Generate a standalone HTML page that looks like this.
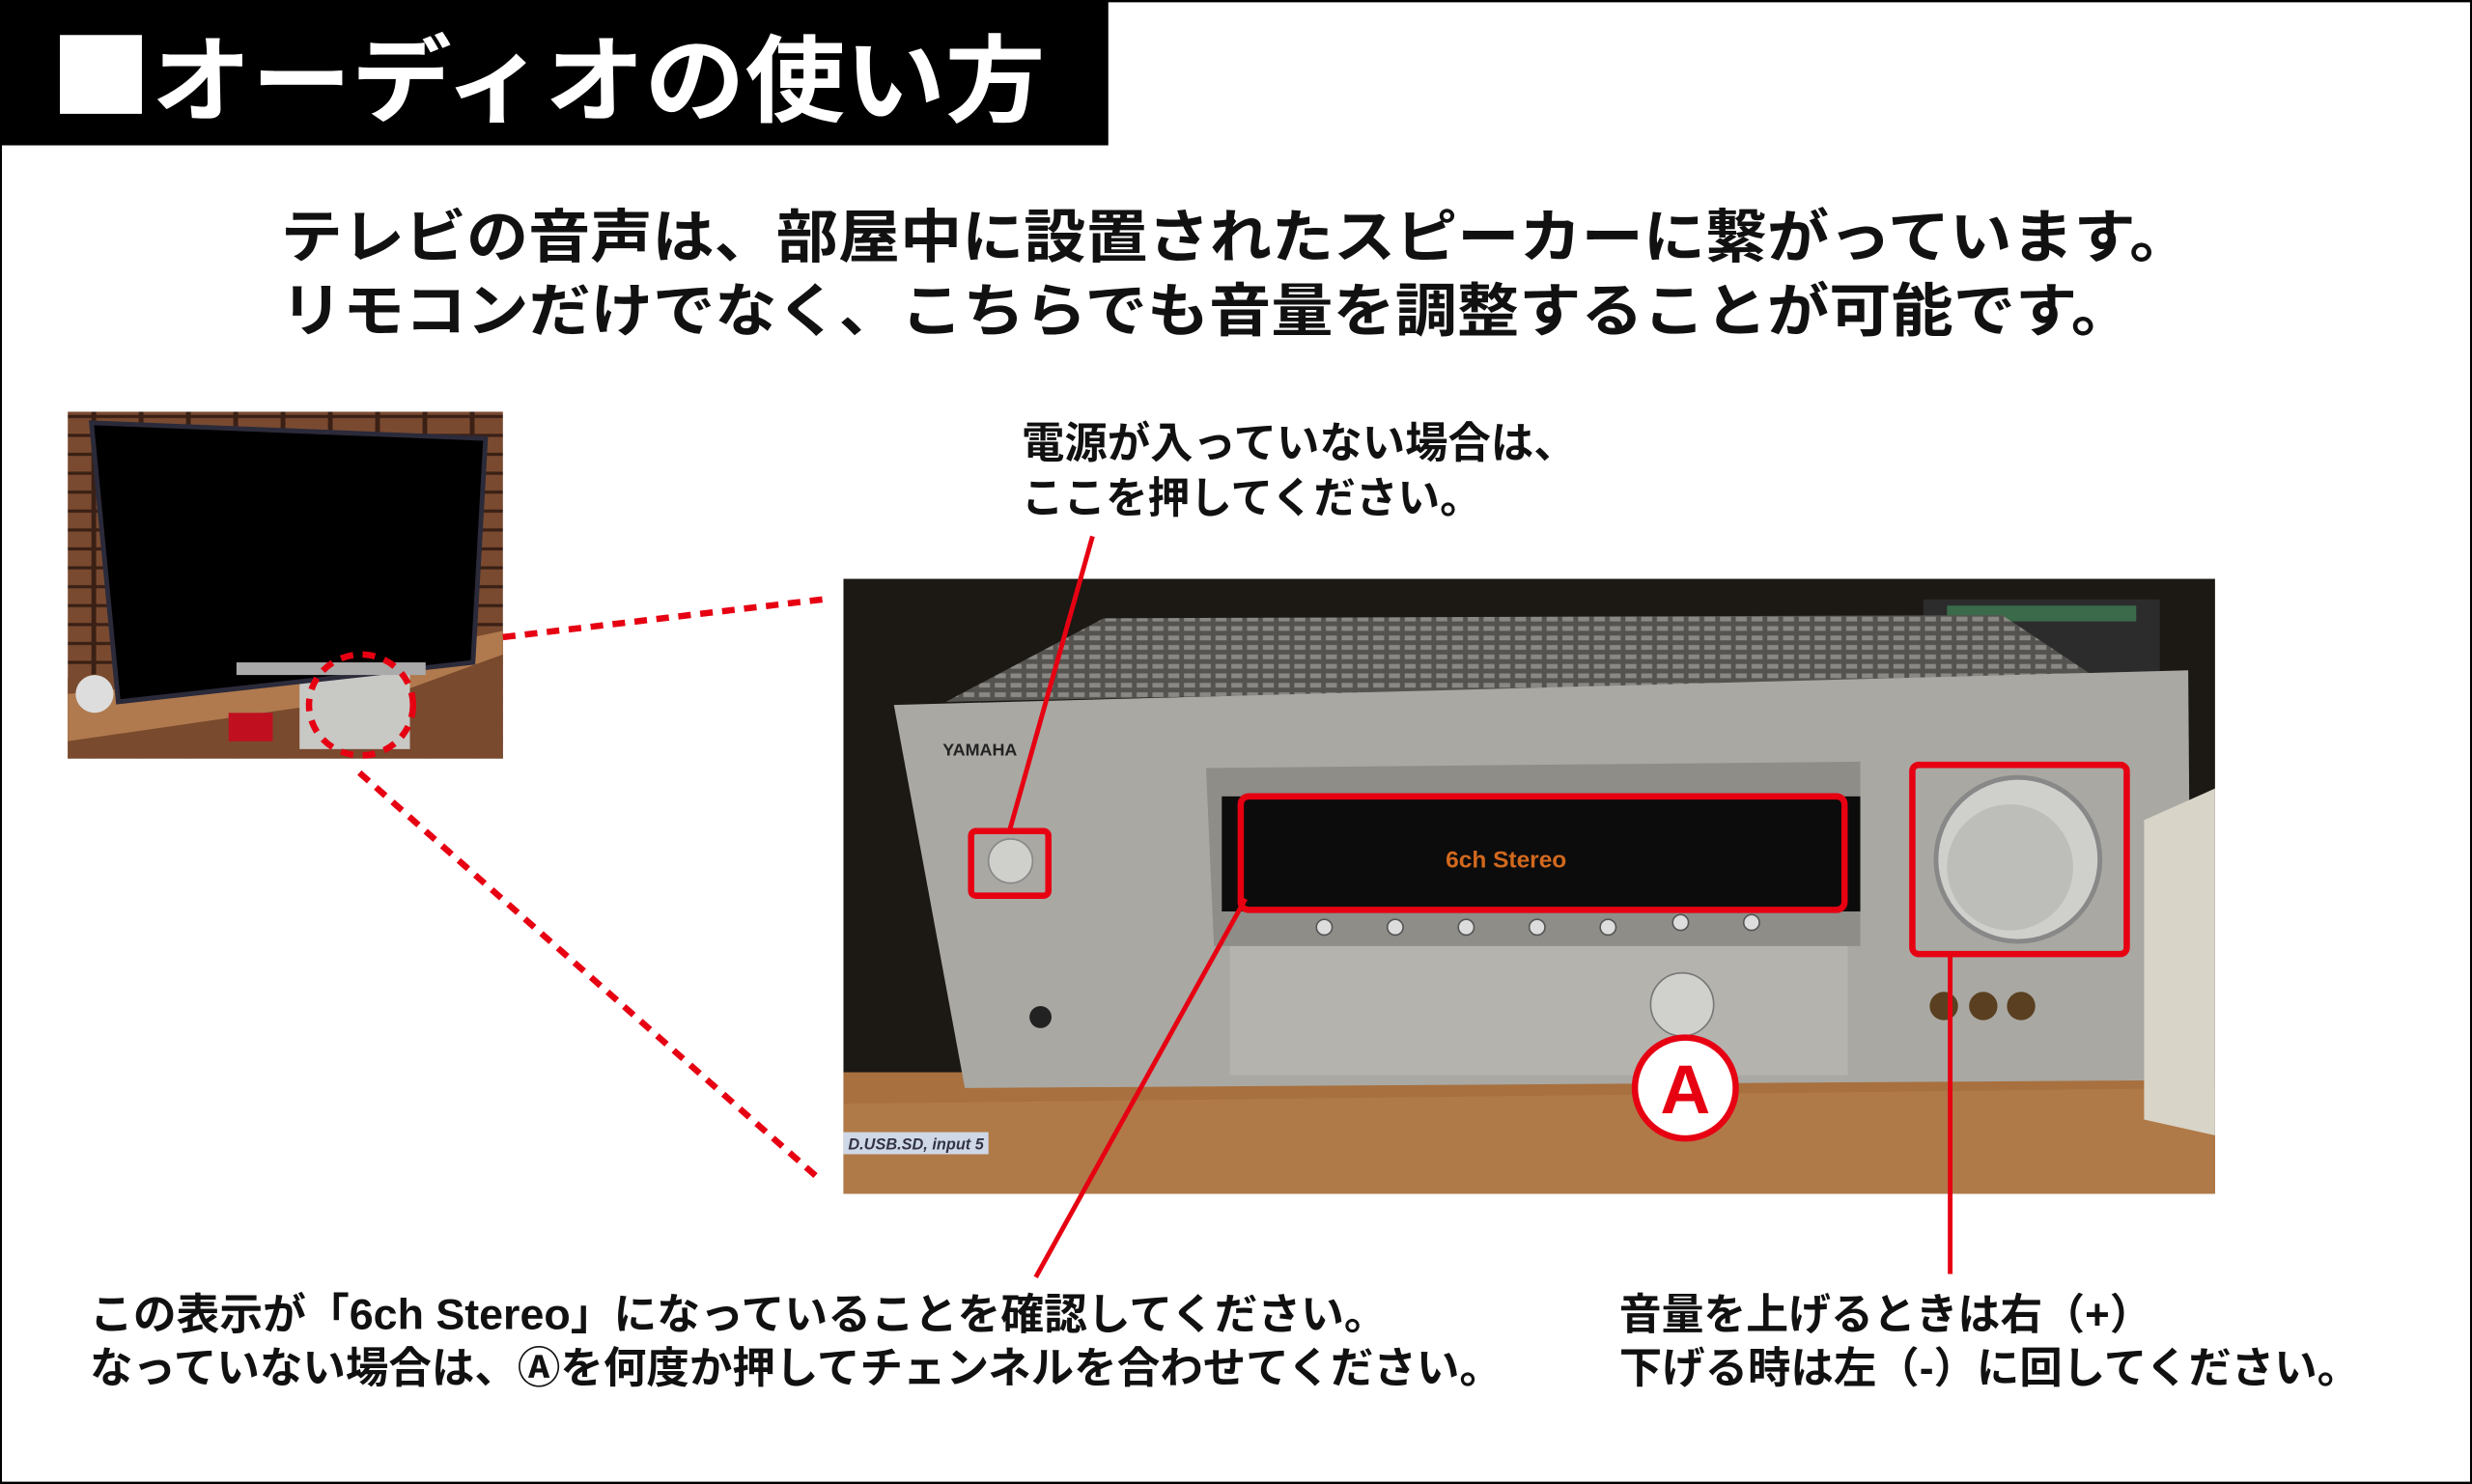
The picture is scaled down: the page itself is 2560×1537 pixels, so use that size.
<!DOCTYPE html>
<html><head><meta charset="utf-8"><style>
html,body{margin:0;padding:0;background:#fff;}
svg{display:block;}
text{font-family:"Liberation Sans","Noto Sans CJK JP",sans-serif;font-weight:bold;}
</style></head><body>
<svg width="2560" height="1537" viewBox="0 0 1568 941" xmlns="http://www.w3.org/2000/svg">
<defs>
<pattern id="brick" width="30" height="12" patternUnits="userSpaceOnUse">
<rect width="30" height="12" fill="#3a2015"/><rect x="1" y="1" width="27" height="10" fill="#7a4a30"/>
</pattern>
<pattern id="grill" width="10" height="6" patternUnits="userSpaceOnUse">
<rect width="10" height="6" fill="#55534f"/><rect x="1" y="1" width="7" height="3" fill="#8a8884"/>
</pattern>
</defs>
<rect x="0.5" y="0.5" width="1567" height="940" fill="#fff" stroke="#000" stroke-width="1.5"/>
<rect x="0" y="0" width="703" height="92" fill="#000"/>
<rect x="38" y="22" width="52" height="50" fill="#fff"/>
<text x="96" y="72" font-size="60" fill="#fff" textLength="567" lengthAdjust="spacingAndGlyphs">オーディオの使い方</text>
<text x="178" y="163" font-size="37" fill="#111" textLength="1212" lengthAdjust="spacingAndGlyphs">テレビの音声は、部屋中に設置されたスピーカーに繋がっています。</text>
<text x="178" y="210" font-size="37" fill="#111" textLength="1175" lengthAdjust="spacingAndGlyphs">リモコンだけでなく、こちらでも音量を調整することが可能です。</text>

<!-- TV photo -->
<g>
<rect x="43" y="261" width="276" height="220" fill="url(#brick)"/>
<polygon points="43,430 290,395 319,400 319,481 43,481" fill="#7a4a2e"/>
<polygon points="43,440 200,425 319,400 319,415 250,440 43,470" fill="#b07a4e"/>
<rect x="190" y="425" width="70" height="50" fill="#c8c8c4"/>
<rect x="145" y="452" width="28" height="18" fill="#c01020"/>
<polygon points="58,268 308,278 300,420 75,445" fill="#000" stroke="#2a2a3a" stroke-width="3"/>
<rect x="150" y="420" width="120" height="8" fill="#aaa"/>
<ellipse cx="60" cy="440" rx="12" ry="12" fill="#ddd"/>
</g>

<!-- Amp photo -->
<g>
<rect x="535" y="367" width="870" height="390" fill="#1c1814"/>
<rect x="1220" y="380" width="150" height="60" fill="#2c2c2c"/>
<rect x="1235" y="384" width="120" height="10" fill="#3a6a4a"/>
<polygon points="600,445 700,392 1270,390 1330,430" fill="url(#grill)"/>
<rect x="535" y="680" width="870" height="77" fill="#a8703e"/>
<polygon points="535,700 1405,690 1405,757 535,757" fill="#b07a48"/>
<polygon points="567,447 1388,425 1390,685 612,690" fill="#a9a8a3"/>
<polygon points="765,487 1180,483 1180,600 770,600" fill="#8e8d88"/>
<rect x="775" y="505" width="405" height="73" fill="#0c0c0c"/>
<text x="917" y="550" font-size="15" fill="#d2691e" font-family="Liberation Mono" font-weight="normal">6ch Stereo</text>
<rect x="780" y="600" width="392" height="82" fill="#b4b3ae"/>
<g fill="#ddd" stroke="#555"><circle cx="840" cy="588" r="5"/><circle cx="885" cy="588" r="5"/><circle cx="930" cy="588" r="5"/><circle cx="975" cy="588" r="5"/><circle cx="1020" cy="588" r="5"/><circle cx="1066" cy="585" r="5"/><circle cx="1111" cy="585" r="5"/></g>
<circle cx="1280" cy="545" r="52" fill="#cfcfcc" stroke="#888" stroke-width="3"/>
<circle cx="1275" cy="550" r="40" fill="#bdbdba"/>
<circle cx="1067" cy="637" r="20" fill="#d0d0cc" stroke="#777"/>
<circle cx="641" cy="546" r="14" fill="#cfcfcc" stroke="#888"/>
<circle cx="660" cy="645" r="7" fill="#222"/>
<circle cx="1233" cy="638" r="9" fill="#5a4020"/><circle cx="1258" cy="638" r="9" fill="#5a4020"/><circle cx="1282" cy="638" r="9" fill="#5a4020"/>
<polygon points="1360,520 1405,500 1405,720 1360,710" fill="#d8d4c8"/>
<rect x="535" y="718" width="92" height="14" fill="#cfd8e6"/>
<text x="538" y="729" font-size="10" fill="#334" font-weight="normal" font-style="italic">D.USB.SD, input 5</text>
<text x="598" y="479" font-size="11" fill="#222">YAMAHA</text>
</g>

<!-- red boxes -->
<g fill="none" stroke="#e60012" stroke-width="4">
<rect x="616" y="527" width="49" height="41" rx="3"/>
<rect x="787" y="505" width="383" height="72" rx="5"/>
<rect x="1213" y="485" width="136" height="120" rx="4"/>
</g>
<g stroke="#e60012" stroke-width="3">
<line x1="693" y1="340" x2="640" y2="528"/>
<line x1="790" y1="570" x2="657" y2="810"/>
<line x1="1237" y1="605" x2="1237" y2="808"/>
</g>
<g fill="none" stroke="#e60012" stroke-width="4" stroke-dasharray="8,6">
<line x1="319" y1="404" x2="522" y2="380"/>
<line x1="228" y1="490" x2="520" y2="748"/>
<ellipse cx="229" cy="447" rx="33" ry="32"/>
</g>
<circle cx="1069" cy="690" r="32" fill="#fff" stroke="#e60012" stroke-width="4"/>
<text x="1069" y="706" font-size="44" fill="#e60012" text-anchor="middle">A</text>

<text x="648" y="290" font-size="27" fill="#111" textLength="352" lengthAdjust="spacingAndGlyphs">電源が入っていない場合は、</text>
<text x="648" y="325" font-size="27" fill="#111" textLength="292" lengthAdjust="spacingAndGlyphs">ここを押してください。</text>
<text x="57" y="843" font-size="27" fill="#111" textLength="823" lengthAdjust="spacingAndGlyphs">この表示が「6ch Stereo」になっていることを確認してください。</text>
<text x="57" y="877" font-size="27" fill="#111" textLength="896" lengthAdjust="spacingAndGlyphs">なっていない場合は、Ⓐを何度か押してチェンネルを合わせてください。</text>
<text x="1027" y="843" font-size="27" fill="#111" textLength="338" lengthAdjust="spacingAndGlyphs">音量を上げるときは右（+）</text>
<text x="1027" y="877" font-size="27" fill="#111" textLength="470" lengthAdjust="spacingAndGlyphs">下げる時は左（-）に回してください。</text>
</svg>
</body></html>
